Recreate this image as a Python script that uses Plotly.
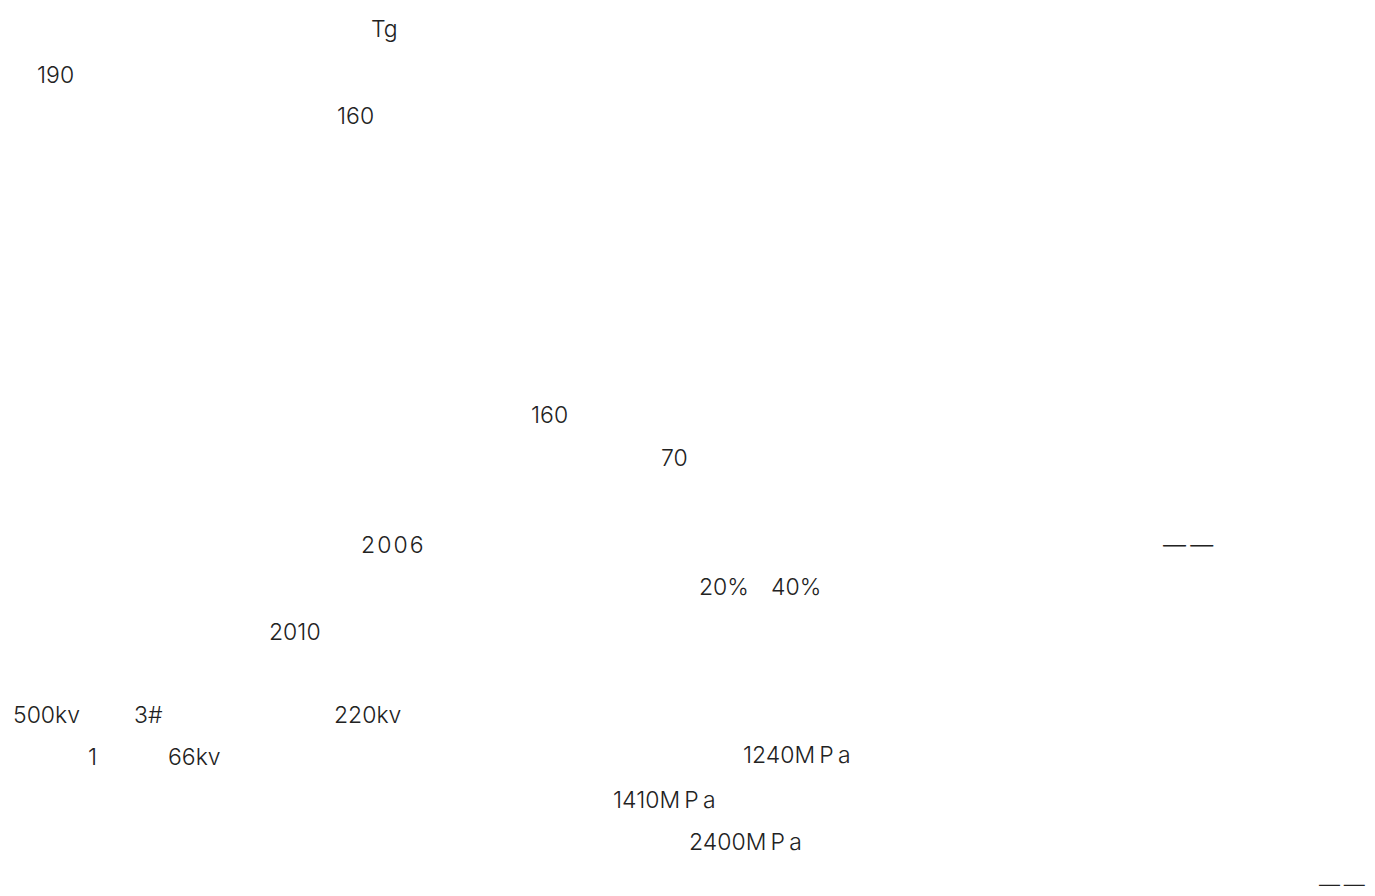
import plotly.graph_objects as go

# Text fragments of the page (content)
labels = ["Tg", "190", "160", "160", "70", "2\u200a0\u200a0\u200a6", "\u2014\u2009\u2014",
          "20%", "40%", "2010", "500kv", "3#", "220kv", "1", "66kv",
          "1240M\u2009P\u2009a", "1410M\u2009P\u2009a", "2400M\u2009P\u2009a", "\u2014\u2009\u2014"]

# Placement (left edge x, vertical centre y, in page pixels) and font size
pos_x = [370, 36, 336, 530, 660, 360, 1162, 698, 770, 268, 12, 133, 333, 87, 167, 742, 612, 688, 1318]
pos_y = [29, 75, 116, 415, 458, 545, 545, 587, 587, 632, 715, 715, 715, 757, 757, 755, 800, 842, 884]
sizes = [23] * 18 + [21]

W, H = 1375, 896

fig = go.Figure()
fig.add_trace(go.Scatter(x=[0, W], y=[0, H], mode="markers", marker=dict(opacity=0),
                         hoverinfo="skip", showlegend=False))
for t, x, y, s in zip(labels, pos_x, pos_y, sizes):
    fig.add_annotation(x=x, y=y, xref="x", yref="y", text=t, showarrow=False,
                       xanchor="left", yanchor="middle", borderpad=0,
                       font=dict(family="Inter, DejaVu Sans, sans-serif", size=s,
                                 color="#222222", weight=300))

fig.update_xaxes(range=[0, W], visible=False, fixedrange=True)
fig.update_yaxes(range=[H, 0], visible=False, fixedrange=True)
fig.update_layout(width=W, height=H, margin=dict(l=0, r=0, t=0, b=0),
                  paper_bgcolor="white", plot_bgcolor="white", hovermode=False)
fig.write_html("out.html", config={"displayModeBar": False},
               post_script="document.body.style.margin='0';")
